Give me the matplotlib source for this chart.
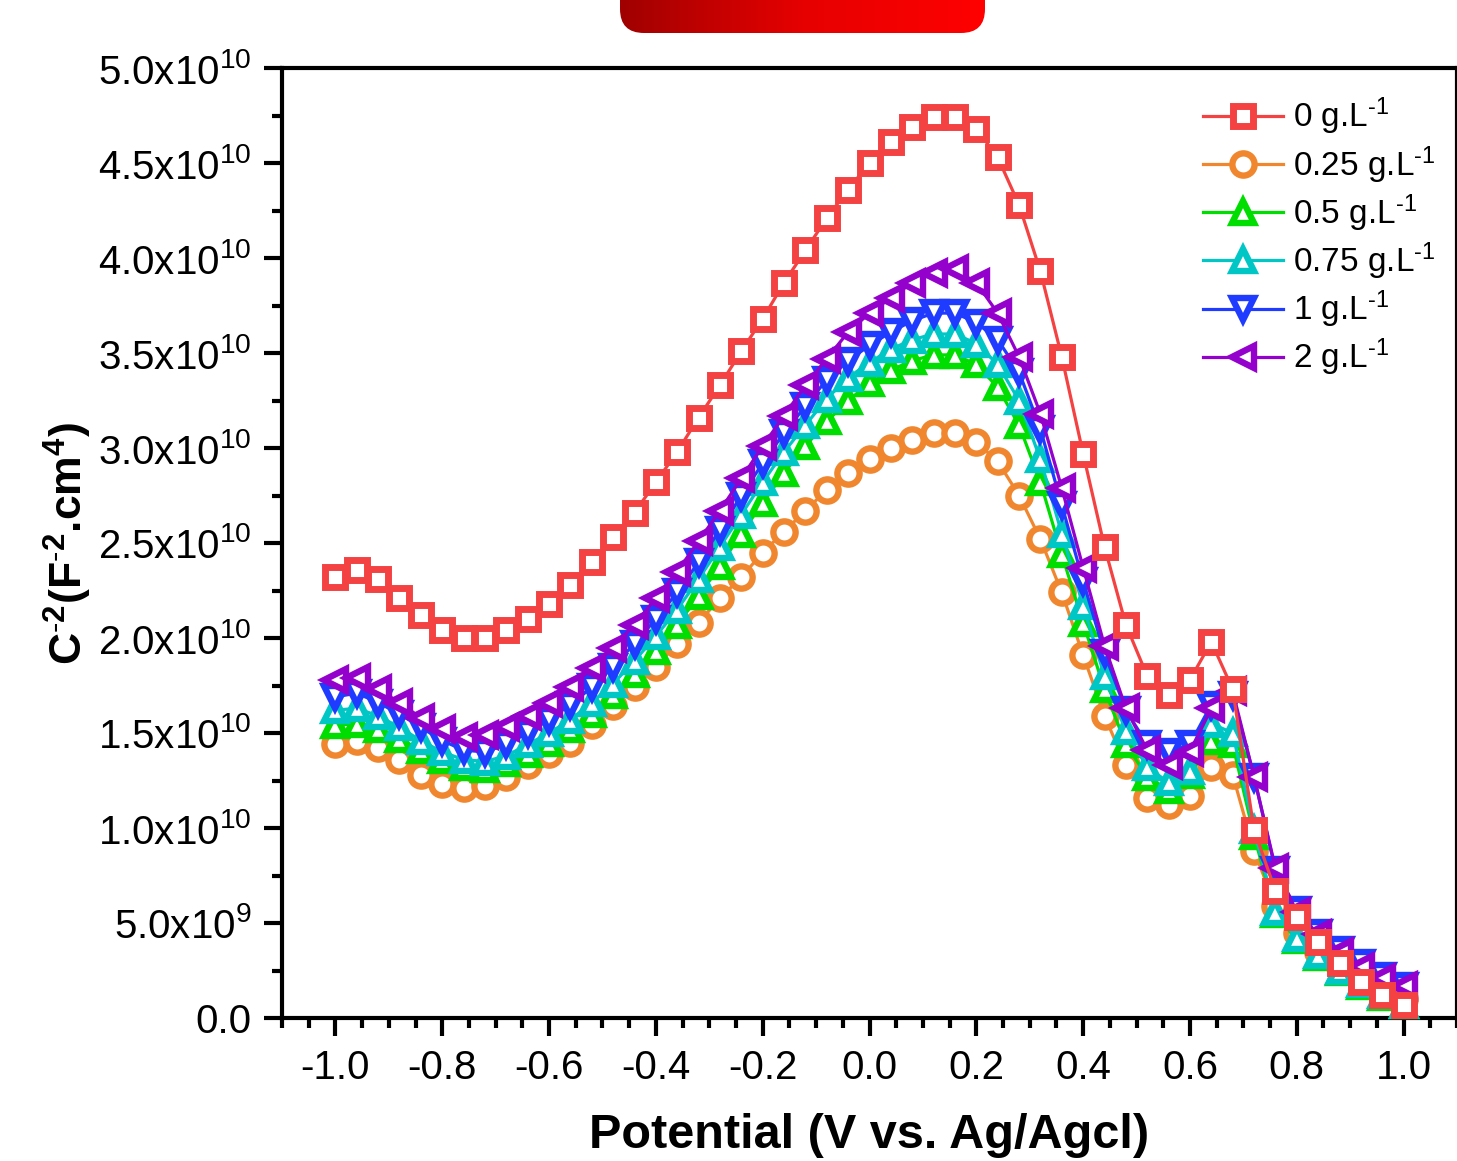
import numpy as np
import matplotlib.pyplot as plt
from matplotlib.patches import FancyBboxPatch
from matplotlib.colors import LinearSegmentedColormap
from matplotlib.ticker import MultipleLocator, FuncFormatter

plt.rcParams['font.family'] = ['Liberation Sans', 'DejaVu Sans']
plt.rcParams['mathtext.fontset'] = 'custom'
plt.rcParams['mathtext.rm'] = 'Liberation Sans'
plt.rcParams['mathtext.bf'] = 'Liberation Sans:bold'
plt.rcParams['mathtext.default'] = 'regular'
plt.rcParams['axes.unicode_minus'] = False

# Mott-Schottky sweep, -1.0 V to 1.0 V in 0.04 V steps
potential = np.linspace(-1.0, 1.0, 51)

# C^-2 values in units of 1e10 F^-2.cm^4
c_0 = [2.32, 2.36, 2.31, 2.21, 2.12, 2.04, 2.00, 2.00, 2.04, 2.10,
       2.18, 2.28, 2.40, 2.53, 2.66, 2.82, 2.98, 3.16, 3.33, 3.51,
       3.68, 3.87, 4.04, 4.21, 4.36, 4.50, 4.61, 4.69, 4.74, 4.74,
       4.68, 4.53, 4.28, 3.93, 3.48, 2.97, 2.48, 2.07, 1.80, 1.70,
       1.78, 1.98, 1.73, 0.99, 0.67, 0.53, 0.40, 0.29, 0.19, 0.12, 0.07]
c_025 = [1.44, 1.46, 1.42, 1.36, 1.28, 1.23, 1.21, 1.22, 1.27, 1.33,
         1.39, 1.45, 1.54, 1.64, 1.74, 1.85, 1.97, 2.08, 2.21, 2.32,
         2.45, 2.56, 2.67, 2.78, 2.87, 2.94, 3.00, 3.04, 3.08, 3.08,
         3.03, 2.93, 2.75, 2.52, 2.24, 1.91, 1.59, 1.33, 1.16, 1.12,
         1.17, 1.32, 1.28, 0.88, 0.59, 0.45, 0.35, 0.27, 0.20, 0.14, 0.10]
c_05 = [1.54, 1.55, 1.52, 1.47, 1.41, 1.36, 1.32, 1.31, 1.34, 1.39,
        1.45, 1.52, 1.60, 1.70, 1.81, 1.93, 2.07, 2.22, 2.38, 2.55,
        2.71, 2.87, 3.01, 3.14, 3.25, 3.34, 3.41, 3.46, 3.49, 3.49,
        3.44, 3.32, 3.12, 2.82, 2.44, 2.08, 1.73, 1.44, 1.27, 1.20,
        1.28, 1.46, 1.44, 0.96, 0.55, 0.41, 0.32, 0.24, 0.17, 0.11, 0.07]
c_075 = [1.62, 1.63, 1.59, 1.53, 1.46, 1.40, 1.36, 1.35, 1.38, 1.44,
         1.50, 1.57, 1.66, 1.76, 1.88, 2.01, 2.15, 2.31, 2.48, 2.65,
         2.82, 2.98, 3.12, 3.26, 3.37, 3.45, 3.52, 3.57, 3.60, 3.60,
         3.55, 3.44, 3.25, 2.94, 2.55, 2.17, 1.80, 1.51, 1.32, 1.24,
         1.30, 1.55, 1.50, 0.99, 0.56, 0.42, 0.33, 0.25, 0.18, 0.12, 0.07]
c_1 = [1.69, 1.71, 1.66, 1.60, 1.53, 1.46, 1.41, 1.40, 1.44, 1.50,
       1.57, 1.65, 1.74, 1.85, 1.97, 2.10, 2.24, 2.40, 2.57, 2.75,
       2.92, 3.08, 3.22, 3.36, 3.46, 3.54, 3.61, 3.67, 3.71, 3.71,
       3.66, 3.57, 3.40, 3.10, 2.70, 2.30, 1.92, 1.62, 1.44, 1.40,
       1.44, 1.65, 1.70, 1.27, 0.78, 0.57, 0.45, 0.36, 0.29, 0.22, 0.17]
c_2 = [1.78, 1.79, 1.73, 1.66, 1.58, 1.52, 1.48, 1.49, 1.53, 1.59,
       1.66, 1.74, 1.84, 1.95, 2.07, 2.21, 2.35, 2.51, 2.67, 2.84,
       3.01, 3.17, 3.33, 3.47, 3.61, 3.71, 3.79, 3.87, 3.92, 3.94,
       3.87, 3.71, 3.48, 3.18, 2.79, 2.37, 1.96, 1.63, 1.41, 1.33,
       1.40, 1.63, 1.72, 1.27, 0.79, 0.56, 0.44, 0.35, 0.27, 0.21, 0.17]

labels = [r"0 g.L$^{\text{-}1}$", r"0.25 g.L$^{\text{-}1}$", r"0.5 g.L$^{\text{-}1}$",
          r"0.75 g.L$^{\text{-}1}$", r"1 g.L$^{\text{-}1}$", r"2 g.L$^{\text{-}1}$"]
colors = ['#F44242', '#F0872E', '#00DD00', '#00C6C6', '#1F3BFF', '#9400CC']
markers = ['s', 'o', '^', '^', 'v', '<']
zorders = [8, 3, 4, 5, 6, 7]
curves = [c_0, c_025, c_05, c_075, c_1, c_2]


def sci_label(v, pos):
    if v <= 0:
        return "0.0"
    exp = int(np.floor(np.log10(v) + 1e-9))
    return f"{v / 10**exp:.1f}x10$^{{{exp}}}$"


fig = plt.figure(figsize=(14.57, 11.61), dpi=100)
ax = fig.add_axes([282 / 1457, 143 / 1161, 1175 / 1457, 950 / 1161])

for lab, col, mk, zo, c in zip(labels, colors, markers, zorders, curves):
    ms = 14 if mk == 's' else 16
    mew = 5 if mk == 's' else 4.6
    ax.plot(potential, np.array(c) * 1e10, color=col, lw=2.3, marker=mk,
            ms=ms, mew=mew, mfc='white', mec=col, label=lab, zorder=zo,
            clip_on=False)

ax.set_xlim(-1.1, 1.1)
ax.set_ylim(0, 5e10)
ax.xaxis.set_major_locator(MultipleLocator(0.2))
ax.xaxis.set_minor_locator(MultipleLocator(0.05))
ax.xaxis.set_major_formatter(FuncFormatter(lambda v, p: f"{v:.1f}" if abs(v) > 1e-9 else "0.0"))
ax.yaxis.set_major_locator(MultipleLocator(5e9))
ax.yaxis.set_minor_locator(MultipleLocator(2.5e9))
ax.yaxis.set_major_formatter(FuncFormatter(sci_label))

for s in ax.spines.values():
    s.set_linewidth(3)
ax.tick_params(which='major', length=13, width=3, labelsize=29, pad=9)
ax.tick_params(which='minor', length=7, width=3)

ax.set_xlabel("Potential (V vs. Ag/Agcl)", fontsize=35, fontweight='bold')
ax.xaxis.set_label_coords(0.5, -0.1)
ax.set_ylabel(r"C$^{\text{-}2}$(F$^{\text{-}2}$.cm$^{4}$)", fontsize=32, fontweight='bold')
ax.yaxis.set_label_coords(-0.16, 0.5)

ax.legend(loc='upper left', bbox_to_anchor=(1203 / 1457, 1 - 96 / 1161),
          bbox_transform=fig.transFigure, frameon=False, fontsize=24,
          handlelength=2.4, handletextpad=0.3, labelspacing=0.2,
          borderpad=0, borderaxespad=0)

# red header tab at the top edge
banner = fig.add_axes([620 / 1457, 1 - 33 / 1161, 365 / 1457, 33 / 1161])
banner.axis('off')
box = FancyBboxPatch((0, 0), 365, 80, boxstyle="round,pad=0,rounding_size=24",
                     facecolor='none', edgecolor='none')
banner.add_patch(box)
grad = np.linspace(0, 1, 256).reshape(1, -1)
cmap = LinearSegmentedColormap.from_list('tab', ['#A00000', '#E60000', '#FF0000'])
im = banner.imshow(grad, extent=(0, 365, 0, 33), aspect='auto', cmap=cmap)
im.set_clip_path(box)
banner.set_xlim(0, 365)
banner.set_ylim(0, 33)

fig.savefig("out.png", dpi=100)
